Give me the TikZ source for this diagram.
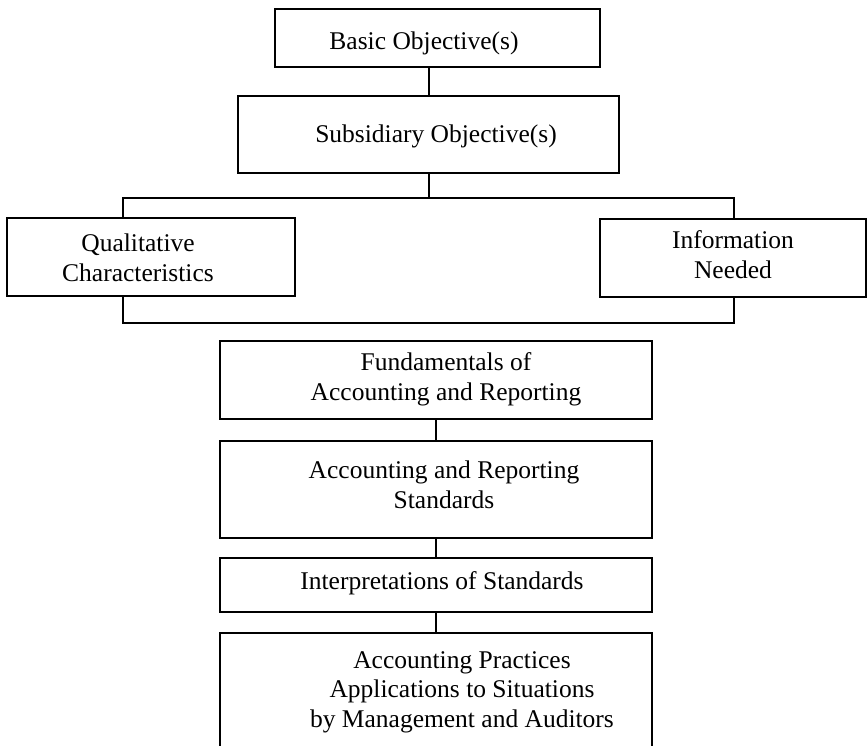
\documentclass[tikz,border=0pt]{standalone}
\usepackage{fontspec}
\setmainfont{Liberation Serif}
\newcommand\diagfont{\fontsize{25.5}{29.5}\selectfont}
\begin{document}
\begin{tikzpicture}[x=1pt,y=-1pt,
  box/.style={draw, line width=2.2pt, inner sep=0pt, rectangle},
  conn/.style={line width=2pt},
  txt/.style={align=center, font=\diagfont, inner sep=0pt, anchor=base}]
\clip (0,0) rectangle (868,745);
\fill[white] (0,0) rectangle (868,745);
% boxes
\node[box, minimum width=325pt, minimum height=58pt] (basic) at (437.5,38) {};
\node[box, minimum width=381pt, minimum height=77pt] (sub) at (428.5,134.5) {};
\node[box, minimum width=288pt, minimum height=78pt] (qual) at (151,257) {};
\node[box, minimum width=266pt, minimum height=78pt] (info) at (733,258) {};
\node[box, minimum width=432pt, minimum height=78pt] (fund) at (436,380) {};
\node[box, minimum width=432pt, minimum height=97pt] (std) at (436,489.5) {};
\node[box, minimum width=432pt, minimum height=54pt] (interp) at (436,585) {};
\node[box, minimum width=432pt, minimum height=147pt] (pract) at (436,706.5) {};
% texts (base anchor = baseline of the last line)
\node[txt] (basicT) at (424,49) {Basic Objective(s)};
\node[txt] (subT) at (436,142) {Subsidiary Objective(s)};
\node[txt] (qualT) at (138,281) {Qualitative\\Characteristics};
\node[txt] (infoT) at (733,278) {Information\\Needed};
\node[txt] (fundT) at (446,400) {Fundamentals of\\Accounting and Reporting};
\node[txt] (stdT) at (444,508) {Accounting and Reporting\\Standards};
\node[txt] (interpT) at (442,589) {Interpretations of Standards};
\node[txt] (practT) at (462,727) {Accounting Practices\\Applications to Situations\\by Management and Auditors};
% connectors
\coordinate (tl) at (123,198);
\coordinate (tr) at (734,198);
\coordinate (bl) at (123,323);
\coordinate (br) at (734,323);
\draw[conn] (sub.north) -- (sub.north |- basic.south);
\draw[conn] (sub.south) -- (sub.south |- tl);
\draw[conn] (qual.north -| tl) -- (tl) -- (tr) -- (info.north -| tr);
\draw[conn] (qual.south -| bl) -- (bl) -- (br) -- (info.south -| br);
\draw[conn] (fund.south) -- (std.north);
\draw[conn] (std.south) -- (interp.north);
\draw[conn] (interp.south) -- (pract.north);
\end{tikzpicture}
\end{document}
